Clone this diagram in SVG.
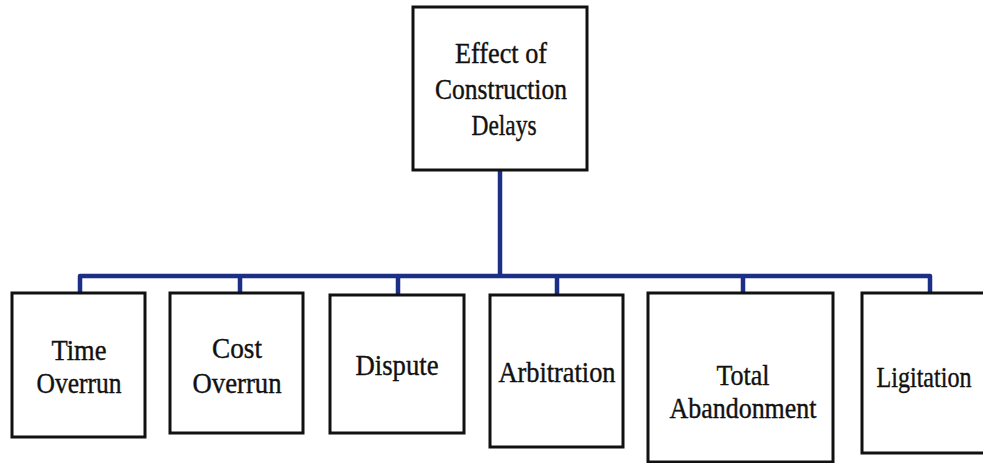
<svg xmlns="http://www.w3.org/2000/svg" width="983" height="463" viewBox="0 0 983 463">
<style>
.box{fill:#fff;stroke:#111;stroke-width:3}
.lbl{font-family:'Times New Roman','Liberation Serif',Tinos,'DejaVu Serif',serif;font-size:30px;fill:#111;stroke:#111;stroke-width:0.4;text-anchor:middle}
.con{fill:none;stroke:#1b2f86;stroke-width:4.5;stroke-linejoin:round}
</style>
<rect width="983" height="463" fill="#fff"/>
<g id="connectors">
<path class="con" d="M500,170 V276"/>
<path class="con" d="M80,293 V276 H930 V293"/>
<path class="con" d="M240,276 V293 M398,276 V295 M557,276 V295 M743,276 V293"/>
</g>
<g id="root">
<rect class="box" x="413" y="7" width="174" height="163"/>
<text class="lbl" x="501" y="63" textLength="92" lengthAdjust="spacingAndGlyphs">Effect of</text>
<text class="lbl" x="501" y="99" textLength="132" lengthAdjust="spacingAndGlyphs">Construction</text>
<text class="lbl" x="504" y="135" textLength="65" lengthAdjust="spacingAndGlyphs">Delays</text>
</g>
<g id="time-overrun">
<rect class="box" x="12" y="293" width="133" height="144"/>
<text class="lbl" x="79" y="360" textLength="55" lengthAdjust="spacingAndGlyphs">Time</text>
<text class="lbl" x="79" y="393" textLength="85" lengthAdjust="spacingAndGlyphs">Overrun</text>
</g>
<g id="cost-overrun">
<rect class="box" x="170" y="293" width="133" height="140"/>
<text class="lbl" x="237" y="358" textLength="50" lengthAdjust="spacingAndGlyphs">Cost</text>
<text class="lbl" x="237" y="393" textLength="89" lengthAdjust="spacingAndGlyphs">Overrun</text>
</g>
<g id="dispute">
<rect class="box" x="330" y="295" width="134" height="138"/>
<text class="lbl" x="397" y="375" textLength="83" lengthAdjust="spacingAndGlyphs">Dispute</text>
</g>
<g id="arbitration">
<rect class="box" x="490" y="295" width="133" height="152"/>
<text class="lbl" x="557" y="382" textLength="117" lengthAdjust="spacingAndGlyphs">Arbitration</text>
</g>
<g id="total-abandonment">
<rect class="box" x="648" y="293" width="185" height="169"/>
<text class="lbl" x="743" y="385" textLength="53" lengthAdjust="spacingAndGlyphs">Total</text>
<text class="lbl" x="743" y="418" textLength="147" lengthAdjust="spacingAndGlyphs">Abandonment</text>
</g>
<g id="ligitation">
<rect class="box" x="862" y="293" width="130" height="160"/>
<text class="lbl" x="924" y="387" textLength="95" lengthAdjust="spacingAndGlyphs">Ligitation</text>
</g>
</svg>
